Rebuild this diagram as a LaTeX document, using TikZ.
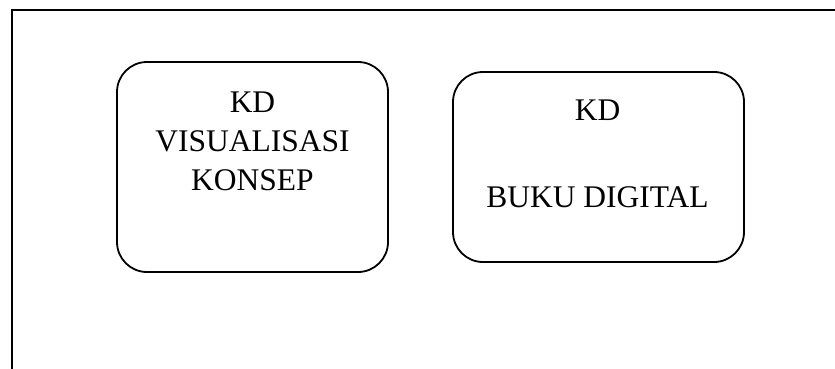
\documentclass[tikz,border=0pt]{standalone}
\usepackage{fontspec}
\setmainfont{Liberation Serif}
\begin{document}
\begin{tikzpicture}[x=1pt,y=-1pt,
  kdbox/.style={draw, line width=1.8pt, rounded corners=30pt, inner sep=0pt},
  kdtext/.style={anchor=base, inner sep=0pt, font=\fontsize{31.5}{39}\selectfont, align=center}]
\useasboundingbox (0,0) rectangle (835,369);
% page frame: top and left edges
\draw[line width=2.2pt] (835,10) -- (12,10) -- (12,369);
% first box
\node[kdbox, minimum width=271pt, minimum height=210pt] (visbox) at (252.5,167) {};
\node[kdtext] (vis1) at (252.5,112) {KD};
\node[kdtext] (vis2) at (252.5,151) {VISUALISASI};
\node[kdtext] (vis3) at (252.5,190) {KONSEP};
% second box
\node[kdbox, minimum width=291pt, minimum height=190pt] (bukbox) at (598.5,167) {};
\node[kdtext] (buk1) at (597.5,120) {KD};
\node[kdtext] (buk2) at (597.5,207) {BUKU DIGITAL};
\end{tikzpicture}
\end{document}
